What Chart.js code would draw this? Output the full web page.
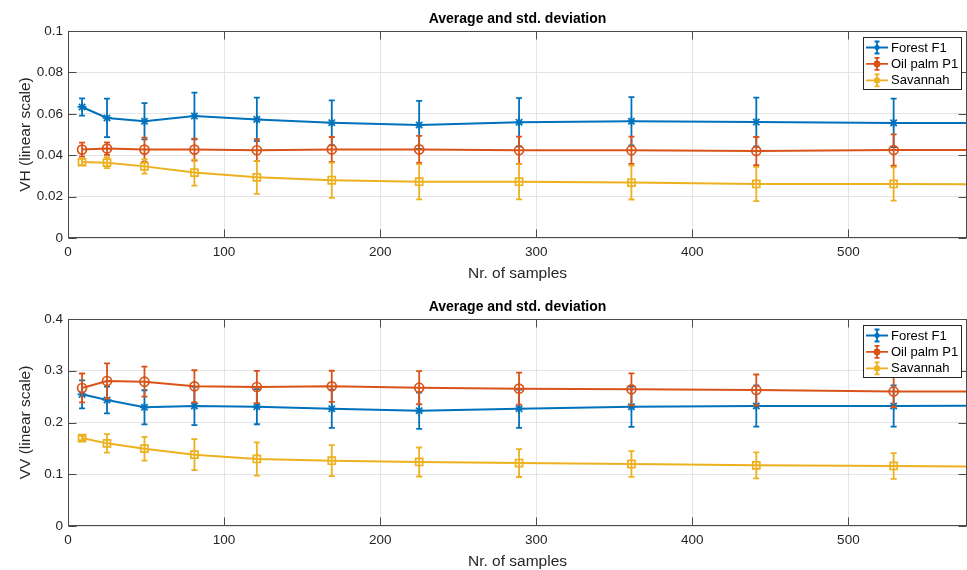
<!DOCTYPE html>
<html>
<head>
<meta charset="utf-8">
<script src="https://cdn.jsdelivr.net/npm/chart.js@4.4.1/dist/chart.umd.min.js"></script>
<style>
  html, body { margin: 0; padding: 0; background: #fff; overflow: hidden; }
  .panel { position: absolute; left: 0; width: 967px; height: 285px; }
</style>
</head>
<body>
<div class="panel" style="top:0"><canvas id="vhChart" width="967" height="285"></canvas></div>
<div class="panel" style="top:288px"><canvas id="vvChart" width="967" height="285"></canvas></div>
<script>
const samples = [9, 25, 49, 81, 121, 169, 225, 289, 361, 441, 529, 625];
const seriesNames = ["Forest F1", "Oil palm P1", "Savannah"];
const xTicks = [0, 100, 200, 300, 400, 500];

// VH panel
const vhTicks = [0, 0.02, 0.04, 0.06, 0.08, 0.1];
const vhForest     = [0.0633, 0.0580, 0.0564, 0.0589, 0.0573, 0.0557, 0.0546, 0.0559, 0.0564, 0.0560, 0.0556, 0.0555];
const vhForestSd   = [0.0042, 0.0093, 0.0088, 0.0113, 0.0105, 0.0108, 0.0116, 0.0117, 0.0117, 0.0118, 0.0117, 0.0117];
const vhPalm       = [0.0427, 0.0432, 0.0427, 0.0427, 0.0424, 0.0428, 0.0428, 0.0424, 0.0424, 0.0420, 0.0425, 0.0425];
const vhPalmSd     = [0.0034, 0.0030, 0.0058, 0.0053, 0.0053, 0.0060, 0.0065, 0.0066, 0.0066, 0.0068, 0.0076, 0.0076];
const vhSavannah   = [0.0367, 0.0364, 0.0346, 0.0316, 0.0293, 0.0279, 0.0272, 0.0272, 0.0268, 0.0261, 0.0261, 0.0259];
const vhSavannahSd = [0.0015, 0.0026, 0.0035, 0.0063, 0.0080, 0.0085, 0.0085, 0.0085, 0.0082, 0.0083, 0.0080, 0.0080];

// VV panel
const vvTicks = [0, 0.1, 0.2, 0.3, 0.4];
const vvForest     = [0.2544, 0.2435, 0.2293, 0.2319, 0.2306, 0.2267, 0.2228, 0.2267, 0.2306, 0.2319, 0.2319, 0.2325];
const vvForestSd   = [0.027, 0.026, 0.033, 0.037, 0.034, 0.037, 0.035, 0.037, 0.039, 0.040, 0.040, 0.040];
const vvPalm       = [0.2667, 0.2802, 0.2789, 0.2700, 0.2686, 0.2700, 0.2673, 0.2654, 0.2641, 0.2628, 0.2600, 0.2595];
const vvPalmSd     = [0.028, 0.034, 0.029, 0.031, 0.031, 0.030, 0.032, 0.031, 0.031, 0.030, 0.030, 0.030];
const vvSavannah   = [0.170, 0.1597, 0.1494, 0.1378, 0.1295, 0.1262, 0.1237, 0.1217, 0.1198, 0.1172, 0.1160, 0.1135];
const vvSavannahSd = [0.004, 0.018, 0.023, 0.030, 0.032, 0.030, 0.028, 0.027, 0.025, 0.025, 0.025, 0.025];

const colors = ["#0072BD", "#D95319", "#EDB120"];
const markers = ["star", "circle", "rect"];
const markerSize = [4.5, 4.5, 5];
const FONT = "'Liberation Sans', Arial, Helvetica, sans-serif";
const INK = "#262626";

Chart.defaults.font.family = FONT;
Chart.defaults.color = INK;

function clipArea(ctx, a) {
  ctx.beginPath();
  ctx.rect(a.left, a.top, a.right - a.left, a.bottom - a.top);
  ctx.clip();
}

// vertical error bars with caps, drawn under each series
const errorBars = {
  id: "errorBars",
  beforeDatasetDraw(chart, args) {
    const ds = chart.data.datasets[args.index];
    const ys = chart.scales.y;
    const ctx = chart.ctx;
    ctx.save();
    clipArea(ctx, chart.chartArea);
    ctx.strokeStyle = ds.borderColor;
    ctx.lineWidth = 1.8;
    args.meta.data.forEach((pt, i) => {
      const m = ds.data[i].y, e = ds.err[i];
      const t = ys.getPixelForValue(m + e), b = ys.getPixelForValue(m - e);
      ctx.beginPath();
      ctx.moveTo(pt.x, t); ctx.lineTo(pt.x, b);
      ctx.moveTo(pt.x - 3, t); ctx.lineTo(pt.x + 3, t);
      ctx.moveTo(pt.x - 3, b); ctx.lineTo(pt.x + 3, b);
      ctx.stroke();
    });
    ctx.restore();
  }
};

// matlab style box with inward ticks, plus legend
const axesBox = {
  id: "axesBox",
  afterDatasetsDraw(chart) {
    const ctx = chart.ctx, a = chart.chartArea;
    const xs = chart.scales.x, ys = chart.scales.y;
    const L = Math.round(a.left) + 0.5, R = Math.round(a.right) - 0.5;
    const T = Math.round(a.top) + 0.5, B = Math.round(a.bottom) - 0.5;
    ctx.save();
    ctx.strokeStyle = "#4a4a4a";
    ctx.lineWidth = 1;
    ctx.strokeRect(L, T, R - L, B - T);
    ctx.beginPath();
    xs.ticks.forEach((t, i) => {
      const px = Math.round(xs.getPixelForTick(i)) + 0.5;
      ctx.moveTo(px, B); ctx.lineTo(px, B - 8);
      ctx.moveTo(px, T); ctx.lineTo(px, T + 8);
    });
    ys.ticks.forEach((t, i) => {
      const py = Math.round(ys.getPixelForTick(i)) + 0.5;
      ctx.moveTo(L, py); ctx.lineTo(L + 8, py);
      ctx.moveTo(R, py); ctx.lineTo(R - 8, py);
    });
    ctx.stroke();
    ctx.restore();
  },
  afterDraw(chart) {
    const ctx = chart.ctx, a = chart.chartArea;
    const lw = 98, lh = 52;
    const lx = Math.round(a.right) - 104, ly = Math.round(a.top) + 6;
    ctx.save();
    ctx.fillStyle = "#fff";
    ctx.fillRect(lx, ly, lw, lh);
    ctx.strokeStyle = INK;
    ctx.lineWidth = 1;
    ctx.strokeRect(lx + 0.5, ly + 0.5, lw, lh);
    chart.data.datasets.forEach((ds, i) => {
      const cy = ly + 10.5 + i * 16.4;
      const mx = lx + 14;
      ctx.strokeStyle = ds.borderColor;
      ctx.lineWidth = 1.8;
      ctx.beginPath();
      ctx.moveTo(lx + 3, cy); ctx.lineTo(lx + 25, cy);
      ctx.moveTo(mx, cy - 6); ctx.lineTo(mx, cy + 6);
      ctx.moveTo(mx - 2.5, cy - 6); ctx.lineTo(mx + 2.5, cy - 6);
      ctx.moveTo(mx - 2.5, cy + 6); ctx.lineTo(mx + 2.5, cy + 6);
      ctx.stroke();
      Chart.helpers.drawPoint(ctx, {
        pointStyle: ds.pointStyle, radius: 2.5, rotation: 0, borderWidth: 1.5
      }, mx, cy);
      ctx.fillStyle = ds.borderColor;
      ctx.fill();
      ctx.fillStyle = "#000";
      ctx.font = "13px " + FONT;
      ctx.textBaseline = "middle";
      ctx.textAlign = "left";
      ctx.fillText(ds.label, lx + 28, cy + 0.5);
    });
    ctx.restore();
  }
};

function makePanel(canvasId, yLabel, yTicks, means, errs) {
  const datasets = seriesNames.map((name, i) => ({
    label: name,
    data: samples.map((x, j) => ({ x: x, y: means[i][j] })),
    err: errs[i],
    borderColor: colors[i],
    backgroundColor: "transparent",
    borderWidth: 2,
    pointStyle: markers[i],
    pointRadius: markerSize[i],
    pointBorderWidth: 1.7,
    pointBorderColor: colors[i],
    pointBackgroundColor: "transparent",
    tension: 0,
    clip: 0,
    order: 3 - i
  }));

  return new Chart(document.getElementById(canvasId), {
    type: "line",
    data: { datasets },
    plugins: [errorBars, axesBox],
    options: {
      responsive: false,
      animation: false,
      events: [],
      devicePixelRatio: 1,
      layout: { autoPadding: false, padding: { left: 16, right: 0, top: 0, bottom: 0 } },
      plugins: {
        legend: { display: false },
        tooltip: { enabled: false },
        title: {
          display: true,
          text: "Average and std. deviation",
          fullSize: false,
          color: "#000",
          font: { size: 14, weight: "bold" },
          padding: { top: 11, bottom: 3.2 }
        }
      },
      scales: {
        x: {
          type: "linear",
          min: 0,
          max: 576,
          afterBuildTicks: s => { s.ticks = xTicks.map(v => ({ value: v })); },
          afterFit: s => { s.height = 47; s.paddingLeft = 0; s.paddingRight = 0; },
          border: { display: false },
          grid: { color: "#e4e4e4", drawTicks: false },
          ticks: { padding: 6, color: INK, font: { size: 13.5 } },
          title: {
            display: true,
            text: "Nr. of samples",
            color: INK,
            font: { size: 15.5 },
            padding: { top: 0, bottom: 2.4 }
          }
        },
        y: {
          min: yTicks[0],
          max: yTicks[yTicks.length - 1],
          afterBuildTicks: s => { s.ticks = yTicks.map(v => ({ value: v })); },
          afterFit: s => { s.width = 52; s.paddingTop = 0; s.paddingBottom = 0; },
          border: { display: false },
          grid: { color: "#e4e4e4", drawTicks: false },
          ticks: {
            padding: 5,
            color: INK,
            font: { size: 13.5 },
            callback: v => String(+v.toFixed(4))
          },
          title: {
            display: true,
            text: yLabel,
            color: INK,
            font: { size: 15.5 },
            padding: 0
          }
        }
      }
    }
  });
}

makePanel("vhChart", "VH (linear scale)", vhTicks,
  [vhForest, vhPalm, vhSavannah], [vhForestSd, vhPalmSd, vhSavannahSd]);
makePanel("vvChart", "VV (linear scale)", vvTicks,
  [vvForest, vvPalm, vvSavannah], [vvForestSd, vvPalmSd, vvSavannahSd]);
</script>
</body>
</html>
